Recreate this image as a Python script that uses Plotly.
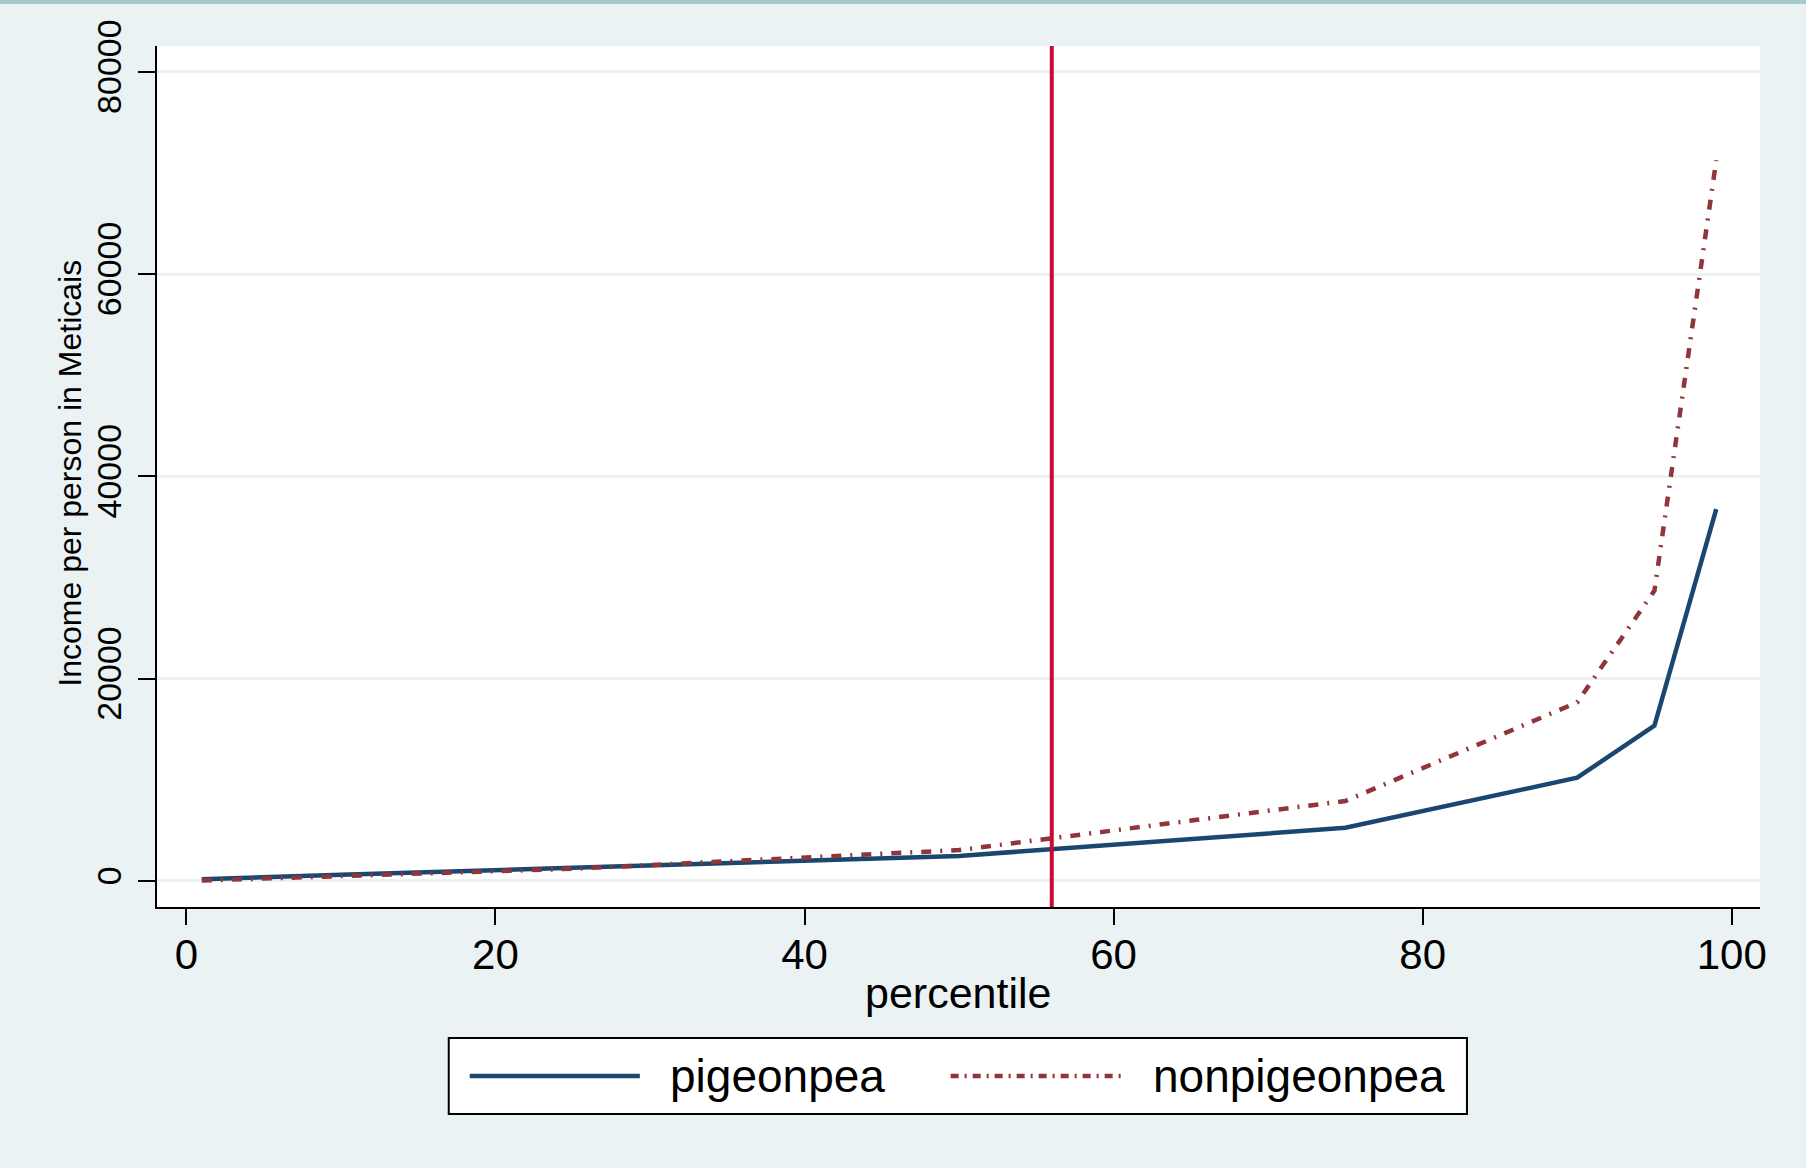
import plotly.graph_objects as go

# ---- data ----
percentile = [1, 5, 10, 25, 50, 75, 90, 95, 99]
pigeonpea = [170, 380, 620, 1290, 2470, 5250, 10200, 15350, 36750]
nonpigeonpea = [40, 220, 450, 1200, 3050, 7900, 17650, 28700, 71250]
ref_percentile = 56
x_ticks = [0, 20, 40, 60, 80, 100]
y_ticks = [0, 20000, 40000, 60000, 80000]
series_names = ["pigeonpea", "nonpigeonpea"]
x_title = "percentile"
y_title = "Income per person in Meticais"

NAVY = "#1a476f"
MAROON = "#90353b"
VLINE = "#c90a32"
BG = "#eaf2f3"
FONT = "Liberation Sans, Arial, sans-serif"
PLOT_DASH = "10px,9px,2px,9px"

fig = go.Figure()
fig.add_trace(go.Scatter(x=percentile, y=pigeonpea, mode="lines", name=series_names[0],
                         line=dict(color=NAVY, width=4.5), showlegend=False))
fig.add_trace(go.Scatter(x=percentile, y=nonpigeonpea, mode="lines", name=series_names[1],
                         line=dict(color=MAROON, width=4.5, dash=PLOT_DASH), showlegend=False))

# vertical reference line
fig.add_shape(type="line", xref="x", yref="paper", x0=ref_percentile, x1=ref_percentile,
              y0=0, y1=1, line=dict(color=VLINE, width=4), layer="above")

# thin top bar
fig.add_shape(type="rect", xref="paper", yref="paper", x0=-0.1, x1=1.04, y0=1.0488, y1=1.06,
              fillcolor="#a8c9cc", line=dict(width=0), layer="above")

# custom legend
fig.add_shape(type="rect", xref="paper", yref="paper", x0=0.1820, x1=0.8172, y0=-0.1521, y1=-0.2404,
              fillcolor="white", line=dict(color="black", width=2))
fig.add_shape(type="line", xref="paper", yref="paper", x0=0.1951, x1=0.3012, y0=-0.1963, y1=-0.1963,
              line=dict(color=NAVY, width=4.5))
fig.add_shape(type="line", xref="paper", yref="paper", x0=0.4951, x1=0.6031, y0=-0.1963, y1=-0.1963,
              line=dict(color=MAROON, width=4.5, dash="8px,6px,2px,6px"))
fig.add_annotation(xref="paper", yref="paper", x=0.3186, y=-0.1963, text=series_names[0],
                   showarrow=False, xanchor="left", yanchor="middle",
                   font=dict(family=FONT, size=46, color="black"))
fig.add_annotation(xref="paper", yref="paper", x=0.6200, y=-0.1963, text=series_names[1],
                   showarrow=False, xanchor="left", yanchor="middle",
                   font=dict(family=FONT, size=46, color="black"))

# axis titles
fig.add_annotation(xref="paper", yref="paper", x=0.4996, y=-0.0999, text=x_title,
                   showarrow=False, xanchor="center", yanchor="middle",
                   font=dict(family=FONT, size=43, color="black"))
fig.add_annotation(xref="paper", yref="paper", x=-0.0545, y=0.504, text=y_title, textangle=-90,
                   showarrow=False, xanchor="center", yanchor="middle",
                   font=dict(family=FONT, size=32, color="black"))

fig.update_layout(
    width=1806, height=1168,
    margin=dict(l=157, r=46, t=46, b=261, pad=0),
    paper_bgcolor=BG, plot_bgcolor="white",
    font=dict(family=FONT, color="black"),
    xaxis=dict(
        range=[-1.9, 101.83], tickvals=x_ticks, ticktext=[str(v) for v in x_ticks],
        ticks="outside", ticklen=16, tickwidth=2, tickcolor="black",
        showline=True, linewidth=2, linecolor="black", showgrid=False, zeroline=False,
        tickfont=dict(size=42, family=FONT), ticklabelstandoff=-6,
    ),
    yaxis=dict(
        range=[-2580, 82541], tickvals=y_ticks, ticktext=[str(v) for v in y_ticks],
        ticks="outside", ticklen=17, tickwidth=2, tickcolor="black",
        showline=True, linewidth=2, linecolor="black",
        showgrid=True, gridcolor=BG, gridwidth=3, zeroline=False,
        tickangle=-90, tickfont=dict(size=34, family=FONT), ticklabelstandoff=3,
    ),
)

fig.write_html("out.html", config={"displayModeBar": False},
               post_script="document.body.style.margin='0px';document.body.style.overflow='hidden';")
